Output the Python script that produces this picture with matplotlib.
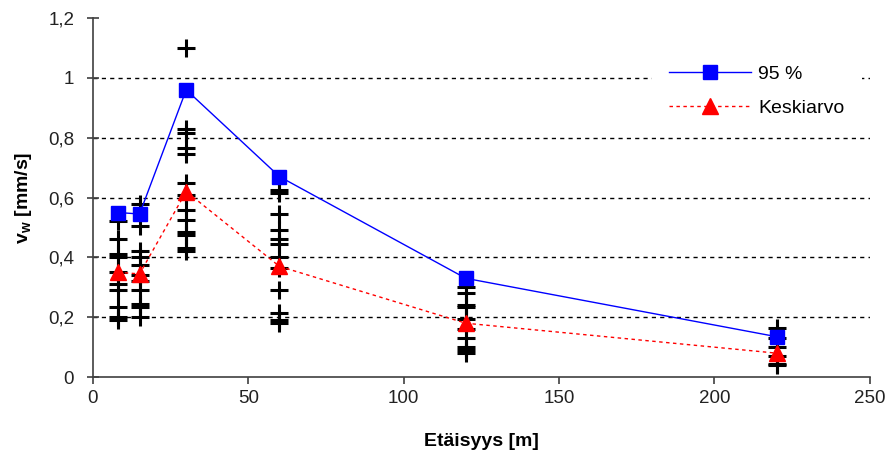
import matplotlib
matplotlib.use('Agg')
import matplotlib.pyplot as plt
from matplotlib.ticker import FuncFormatter

plt.rcParams['font.family'] = ['Liberation Sans', 'DejaVu Sans']
plt.rcParams['mathtext.fontset'] = 'custom'
plt.rcParams['mathtext.bf'] = 'Liberation Sans:bold'
plt.rcParams['mathtext.rm'] = 'Liberation Sans'

# distances [m]
distances = [8, 15, 30, 60, 120, 220]
p95 = [0.55, 0.545, 0.96, 0.67, 0.33, 0.135]
mean = [0.35, 0.345, 0.62, 0.37, 0.18, 0.08]

# individual measurements per distance
meas = {
    8: [0.52, 0.46, 0.41, 0.40, 0.35, 0.31, 0.29, 0.235, 0.20, 0.19],
    15: [0.58, 0.505, 0.42, 0.40, 0.375, 0.34, 0.32, 0.29, 0.245, 0.235, 0.20],
    30: [1.10, 0.83, 0.815, 0.765, 0.745, 0.65, 0.61, 0.56, 0.525, 0.485, 0.475, 0.43, 0.42],
    60: [0.625, 0.615, 0.545, 0.49, 0.46, 0.445, 0.40, 0.365, 0.29, 0.215, 0.19, 0.18],
    120: [0.30, 0.28, 0.24, 0.235, 0.195, 0.16, 0.13, 0.10, 0.09, 0.08],
    220: [0.165, 0.13, 0.10, 0.07, 0.045, 0.04],
}

fig = plt.figure(figsize=(8.94, 4.61), dpi=100)
ax = fig.add_axes([0.104, 0.182, 0.869, 0.779])

for d, vals in meas.items():
    ax.plot([d] * len(vals), vals, linestyle='none', marker='+', color='black',
            markersize=13, markeredgewidth=2.2, zorder=3)

ax.plot(distances, p95, color='blue', lw=1, marker='s', markersize=10,
        markerfacecolor='blue', markeredgecolor='blue', label='95 %', zorder=4)
ax.plot(distances, mean, color='red', lw=1, linestyle=(0, (2.5, 2.5)), marker='^',
        markersize=11, markerfacecolor='red', markeredgecolor='red',
        label='Keskiarvo', zorder=5)

ax.set_xlim(0, 250)
ax.set_ylim(0, 1.2)
ax.set_xticks([0, 50, 100, 150, 200, 250])
ax.set_yticks([0, 0.2, 0.4, 0.6, 0.8, 1.0, 1.2])
ax.yaxis.set_major_formatter(FuncFormatter(lambda v, p: f'{v:g}'.replace('.', ',')))

for y in [0.2, 0.4, 0.6, 0.8, 1.0]:
    ax.axhline(y, color='black', lw=1, linestyle=(0, (3, 3)), zorder=1)

ax.spines['top'].set_visible(False)
ax.spines['right'].set_visible(False)
for s in ['left', 'bottom']:
    ax.spines[s].set_color('#404040')
    ax.spines[s].set_linewidth(1.2)
ax.tick_params(axis='y', direction='inout', length=9, width=1.2, color='#404040',
               labelsize=13.5, labelcolor='#222222', pad=9)
ax.tick_params(axis='x', direction='out', length=5, width=1.2, color='#404040',
               labelsize=13.5, labelcolor='#222222', pad=4)

ax.set_xlabel('Etäisyys [m]', fontsize=14, fontweight='bold', labelpad=19)
ax.set_ylabel(r'$\mathbf{v_w}$ [mm/s]', fontsize=14, fontweight='bold', labelpad=10)

leg = ax.legend(loc='upper left', bbox_to_anchor=(0.707, 0.944), frameon=True,
                fontsize=14, handlelength=4.2, labelspacing=0.85, handletextpad=0.35,
                borderpad=0.9, fancybox=False)
leg.get_frame().set_facecolor('white')
leg.get_frame().set_edgecolor('none')
leg.get_frame().set_alpha(1)
leg.set_zorder(10)

fig.savefig('out.png', dpi=100)
